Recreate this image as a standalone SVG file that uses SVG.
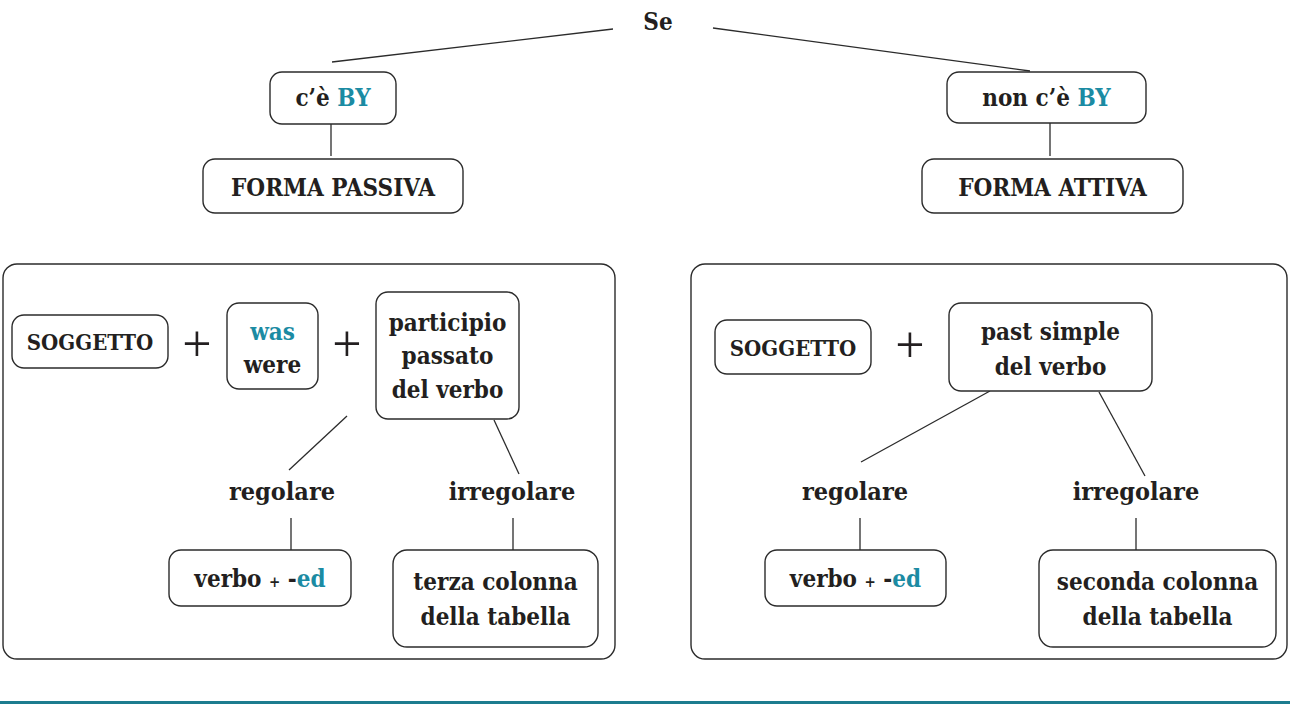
<svg xmlns="http://www.w3.org/2000/svg" width="1290" height="704" viewBox="0 0 1290 704">
<style>
text{font-family:"DejaVu Serif Condensed","DejaVu Serif",serif;font-stretch:condensed;font-weight:bold;font-size:24px;fill:#231f20;text-anchor:middle}
.box{fill:#fff;stroke:#2b2b2b;stroke-width:1.4}
.big{fill:#fff;stroke:#2b2b2b;stroke-width:1.4}
.ln{stroke:#2b2b2b;stroke-width:1.3;fill:none}
.teal{fill:#1b8ba3}
.plus{font-family:"Liberation Serif",serif;font-weight:normal;font-stretch:normal;font-size:52px}
.sm{font-size:15px}
.lg{font-size:25px}
</style>
<rect width="1290" height="704" fill="#fff"/>
<rect x="0" y="701" width="1290" height="3" fill="#1d7c8f"/>
<g id="panel-left"><rect class="big" x="3" y="264" width="612" height="395" rx="14"/></g>
<g id="panel-right"><rect class="big" x="691" y="264" width="596" height="395" rx="14"/></g>
<g id="connectors">
<line class="ln" x1="613" y1="29" x2="332" y2="62"/>
<line class="ln" x1="713" y1="28" x2="1030" y2="71"/>
<line class="ln" x1="331" y1="124" x2="331" y2="156"/>
<line class="ln" x1="1050" y1="123" x2="1050" y2="156"/>
<line class="ln" x1="347" y1="416" x2="289" y2="470"/>
<line class="ln" x1="494" y1="420" x2="519" y2="474"/>
<line class="ln" x1="291" y1="518" x2="291" y2="550"/>
<line class="ln" x1="513" y1="518" x2="513" y2="550"/>
<line class="ln" x1="990" y1="391" x2="861" y2="462"/>
<line class="ln" x1="1099" y1="392" x2="1145" y2="476"/>
<line class="ln" x1="860" y1="518" x2="860" y2="550"/>
<line class="ln" x1="1136" y1="518" x2="1136" y2="550"/>
</g>
<g id="se"><text x="658" y="30">Se</text></g>
<g id="ce-by"><rect class="box" x="270" y="72" width="126" height="52" rx="12"/><text x="333" y="106">c’è <tspan class="teal">BY</tspan></text></g>
<g id="forma-passiva"><rect class="box" x="203" y="159" width="260" height="54" rx="12"/><text x="333" y="196">FORMA PASSIVA</text></g>
<g id="non-ce-by"><rect class="box" x="947" y="72" width="199" height="51" rx="12"/><text x="1046.5" y="106">non c’è <tspan class="teal">BY</tspan></text></g>
<g id="forma-attiva"><rect class="box" x="922" y="159" width="261" height="54" rx="12"/><text x="1052.5" y="196">FORMA ATTIVA</text></g>
<g id="soggetto-l"><rect class="box" x="12" y="315" width="156" height="53" rx="12"/><text x="90" y="350" style="font-size:22px">SOGGETTO</text></g>
<g id="plus-l1"><text class="plus" x="197" y="361">+</text></g>
<g id="was-were"><rect class="box" x="227" y="303" width="91" height="86" rx="12"/><text x="272.5" y="340"><tspan class="teal">was</tspan></text><text x="272.5" y="373">were</text></g>
<g id="plus-l2"><text class="plus" x="347" y="361">+</text></g>
<g id="participio"><rect class="box" x="376" y="292" width="143" height="127" rx="12"/><text x="447.5" y="331">participio</text><text x="447.5" y="364">passato</text><text x="447.5" y="398">del verbo</text></g>
<g id="regolare-l"><text class="lg" x="282" y="500">regolare</text></g>
<g id="irregolare-l"><text class="lg" x="512" y="500">irregolare</text></g>
<g id="verbo-ed-l"><rect class="box" x="169" y="550" width="182" height="56" rx="12"/><text x="260" y="587">verbo <tspan class="sm">+</tspan> -<tspan class="teal">ed</tspan></text></g>
<g id="terza"><rect class="box" x="393" y="550" width="205" height="97" rx="14"/><text x="495.5" y="590">terza colonna</text><text x="495.5" y="625">della tabella</text></g>
<g id="soggetto-r"><rect class="box" x="715" y="320" width="156" height="54" rx="12"/><text x="793" y="356" style="font-size:22px">SOGGETTO</text></g>
<g id="plus-r"><text class="plus" x="910" y="362">+</text></g>
<g id="past-simple"><rect class="box" x="949" y="303" width="203" height="88" rx="12"/><text x="1050.5" y="340">past simple</text><text x="1050.5" y="375">del verbo</text></g>
<g id="regolare-r"><text class="lg" x="855" y="500">regolare</text></g>
<g id="irregolare-r"><text class="lg" x="1136" y="500">irregolare</text></g>
<g id="verbo-ed-r"><rect class="box" x="765" y="550" width="181" height="56" rx="12"/><text x="855.5" y="587">verbo <tspan class="sm">+</tspan> -<tspan class="teal">ed</tspan></text></g>
<g id="seconda"><rect class="box" x="1039" y="550" width="237" height="97" rx="14"/><text x="1157.5" y="590">seconda colonna</text><text x="1157.5" y="625">della tabella</text></g>
</svg>
